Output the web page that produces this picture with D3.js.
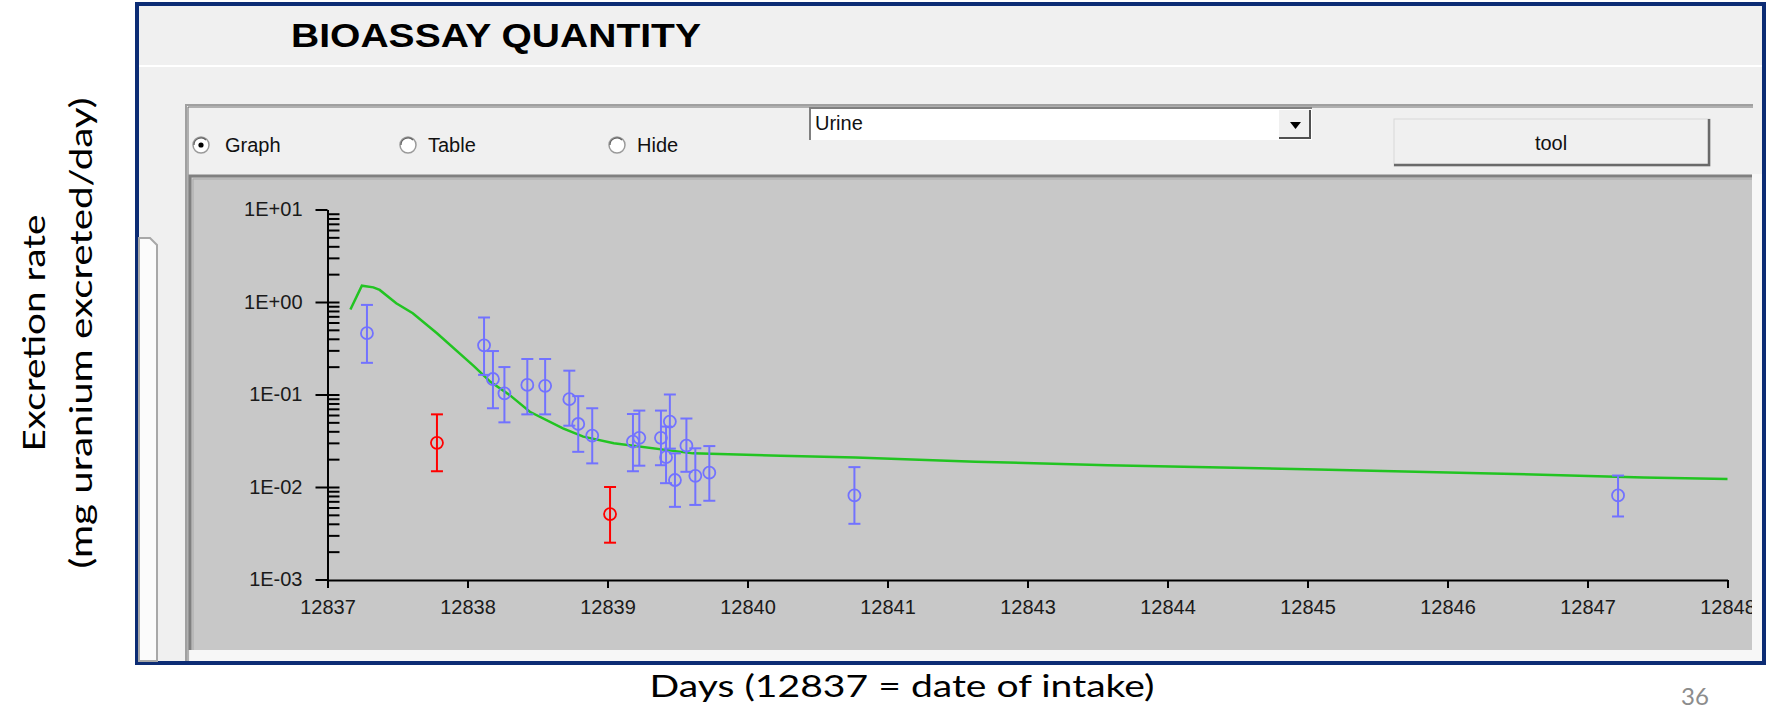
<!DOCTYPE html>
<html>
<head>
<meta charset="utf-8">
<script src="https://cdn.jsdelivr.net/npm/d3@7"></script>
<style>
  body { margin: 0; background: #fff; }
  svg { display: block; }
</style>
</head>
<body>
<svg width="1768" height="706"></svg>
<script>
var blueDays   = [12837.31, 12838.23, 12838.30, 12838.39, 12838.57, 12838.71, 12838.90, 12838.97, 12839.08, 12839.40,
                  12839.45, 12839.62, 12839.66, 12839.69, 12839.73, 12839.82, 12839.89, 12840.00, 12841.14, 12847.14]
var blueValues = [0.46, 0.34, 0.147, 0.103, 0.127, 0.124, 0.089, 0.048, 0.036, 0.031,
                  0.034, 0.034, 0.021, 0.051, 0.0119, 0.028, 0.0132, 0.0143, 0.0081, 0.0081]
var blueLow    = [0.22, 0.163, 0.071, 0.050, 0.061, 0.061, 0.046, 0.024, 0.018, 0.0148,
                  0.017, 0.0172, 0.011, 0.026, 0.0061, 0.0146, 0.0064, 0.0071, 0.0040, 0.0048]
var blueHigh   = [0.93, 0.68, 0.295, 0.198, 0.242, 0.242, 0.181, 0.096, 0.071, 0.0615,
                  0.067, 0.067, 0.045, 0.100, 0.0231, 0.055, 0.0262, 0.0277, 0.0164, 0.0133]

// excluded samples (red)
var redDays   = [12837.86, 12839.22]
var redValues = [0.030, 0.0051]
var redLow    = [0.0148, 0.0025]
var redHigh   = [0.061, 0.0100]

// fitted model curve (green)
var modelDays   = [12837.18, 12837.27, 12837.36, 12837.41, 12837.54, 12837.67, 12837.86, 12838.15, 12838.28, 12838.43,
                   12838.59, 12838.85, 12839.01, 12839.25, 12839.87, 12840.56, 12841.15, 12842.09, 12843.13, 12844.78,
                   12846.06, 12847.34, 12848.0]
var modelValues = [0.83, 1.50, 1.44, 1.35, 0.97, 0.755, 0.46, 0.203, 0.137, 0.099,
                   0.065, 0.043, 0.035, 0.0297, 0.0231, 0.0218, 0.0209, 0.0188, 0.0172, 0.0155,
                   0.0141, 0.0127, 0.0122]

// axis ticks (the program puts 11 ticks 1.1 days apart and rounds the labels)
var xTickValues = [12837, 12838.1, 12839.2, 12840.3, 12841.4, 12842.5, 12843.6, 12844.7, 12845.8, 12846.9, 12848]
var xTickLabels = ["12837", "12838", "12839", "12840", "12841", "12843", "12844", "12845", "12846", "12847", "12848"]
var yTickValues = [1e-3, 1e-2, 1e-1, 1, 10]
var yTickLabels = ["1E-03", "1E-02", "1E-01", "1E+00", "1E+01"]

var svg = d3.select("svg")
var uiFont = "'Liberation Sans', Arial, sans-serif"

// ---- window chrome ----
svg.append("rect")
    .attr("x", 137).attr("y", 4).attr("width", 1627).attr("height", 659)
    .attr("fill", "#f0f0f0").attr("stroke", "#0c2c74").attr("stroke-width", 4)

svg.append("text")
    .attr("x", 291).attr("y", 47)
    .attr("textLength", 410).attr("lengthAdjust", "spacingAndGlyphs")
    .style("font-family", uiFont).style("font-weight", "bold").style("font-size", "33px")
    .text("BIOASSAY QUANTITY")

svg.append("line").attr("x1", 139).attr("x2", 1762).attr("y1", 66).attr("y2", 66)
    .attr("stroke", "#ffffff").attr("stroke-width", 2)

// left tab strip
svg.append("path")
    .attr("d", "M139,238 H150 L157,245 V661 H139 Z")
    .attr("fill", "#fbfbfb").attr("stroke", "#a8a8a8").attr("stroke-width", 2)

// group panel with radios
svg.append("path").attr("d", "M186,661 V105 H1753")
    .attr("fill", "none").attr("stroke", "#a0a0a0").attr("stroke-width", 2)
svg.append("path").attr("d", "M188,661 V107 H1753")
    .attr("fill", "none").attr("stroke", "#707070").attr("stroke-width", 1)

var radios = [
    { cx: 201, label: "Graph", lx: 225, on: true },
    { cx: 408, label: "Table", lx: 428, on: false },
    { cx: 617, label: "Hide", lx: 637, on: false }
]
radios.forEach(function(r) {
    svg.append("circle").attr("cx", r.cx).attr("cy", 145).attr("r", 8)
        .attr("fill", "#ffffff").attr("stroke", "#9a9a9a").attr("stroke-width", 1.5)
    svg.append("path")
        .attr("d", "M" + (r.cx - 7) + ",145 A7,7 0 0 1 " + (r.cx + 5) + ",140")
        .attr("fill", "none").attr("stroke", "#606060").attr("stroke-width", 1.2)
    if (r.on) svg.append("circle").attr("cx", r.cx).attr("cy", 145).attr("r", 2.6).attr("fill", "#000")
    svg.append("text").attr("x", r.lx).attr("y", 152)
        .style("font-family", uiFont).style("font-size", "20px").attr("fill", "#111")
        .text(r.label)
})

// dropdown
svg.append("rect").attr("x", 810).attr("y", 108).attr("width", 502).attr("height", 32)
    .attr("fill", "#ffffff")
svg.append("path").attr("d", "M810,140 V108 H1312").attr("fill", "none")
    .attr("stroke", "#808080").attr("stroke-width", 2)
svg.append("text").attr("x", 815).attr("y", 130)
    .style("font-family", uiFont).style("font-size", "20px").attr("fill", "#111")
    .text("Urine")
svg.append("rect").attr("x", 1279).attr("y", 110).attr("width", 31).attr("height", 28)
    .attr("fill", "#f0f0f0")
svg.append("path").attr("d", "M1279,138 H1310 V110").attr("fill", "none")
    .attr("stroke", "#505050").attr("stroke-width", 2)
svg.append("path").attr("d", "M1290,122 H1301 L1295.5,129 Z").attr("fill", "#000")

// tool button
svg.append("rect").attr("x", 1394).attr("y", 119).attr("width", 316).attr("height", 47)
    .attr("fill", "#f0f0f0").attr("stroke", "#d8d8d8").attr("stroke-width", 1)
svg.append("path").attr("d", "M1394,165 H1709 V119").attr("fill", "none")
    .attr("stroke", "#6a6a6a").attr("stroke-width", 2.5)
svg.append("text").attr("x", 1551).attr("y", 150).attr("text-anchor", "middle")
    .style("font-family", uiFont).style("font-size", "20px").attr("fill", "#111")
    .text("tool")

// ---- chart panel ----
var panel = { x: 190, y: 176, w: 1562, h: 474 }
svg.append("rect").attr("x", panel.x).attr("y", panel.y).attr("width", panel.w).attr("height", panel.h)
    .attr("fill", "#c8c8c8")
svg.append("path").attr("d", "M" + panel.x + "," + (panel.y + panel.h) + " V" + panel.y + " H" + (panel.x + panel.w))
    .attr("fill", "none").attr("stroke", "#808080").attr("stroke-width", 3)
svg.append("path").attr("d", "M" + (panel.x + 3) + "," + (panel.y + panel.h) + " V" + (panel.y + 3) + " H" + (panel.x + panel.w))
    .attr("fill", "none").attr("stroke", "#a8a8a8").attr("stroke-width", 1)
svg.append("rect").attr("x", panel.x).attr("y", panel.y + panel.h).attr("width", panel.w + 10).attr("height", 11)
    .attr("fill", "#f7f7f7")
svg.append("rect").attr("x", panel.x + panel.w).attr("y", panel.y - 2).attr("width", 10).attr("height", panel.h + 2)
    .attr("fill", "#f7f7f7")

svg.append("clipPath").attr("id", "panelClip")
    .append("rect").attr("x", panel.x).attr("y", panel.y).attr("width", panel.w).attr("height", panel.h)

var g = svg.append("g").attr("clip-path", "url(#panelClip)")

var x = d3.scaleLinear().domain([12837, 12848]).range([327.5, 1727.5])
var y = d3.scaleLog().domain([1e-3, 10]).range([579.5, 209.5])

// y axis: major ticks left with labels, minor ticks to the right
var yAxis = g.append("g").attr("transform", "translate(327.5,0)")
    .call(d3.axisLeft(y).tickValues(yTickValues)
        .tickFormat(function(d, i) { return yTickLabels[i] })
        .tickSizeInner(12).tickSizeOuter(0).tickPadding(13))
yAxis.selectAll("line, path").attr("stroke", "#000").attr("stroke-width", 2)
yAxis.selectAll("text")
    .style("font-family", uiFont).style("font-size", "20px").attr("fill", "#1a1a1a")

var minorTicks = y.ticks().filter(function(d) { return d < 9.99 && d > 1.01e-3 })
var yMinor = g.append("g").attr("transform", "translate(327.5,0)")
    .call(d3.axisRight(y).tickValues(minorTicks).tickSize(12).tickFormat(""))
yMinor.select(".domain").remove()
yMinor.selectAll("line").attr("stroke", "#000").attr("stroke-width", 2)

var xAxis = g.append("g").attr("transform", "translate(0,580)")
    .call(d3.axisBottom(x).tickValues(xTickValues)
        .tickFormat(function(d, i) { return xTickLabels[i] })
        .tickSizeInner(8).tickSizeOuter(0).tickPadding(12))
xAxis.selectAll("line, path").attr("stroke", "#000").attr("stroke-width", 2)
xAxis.selectAll("text")
    .style("font-family", uiFont).style("font-size", "20px").attr("fill", "#1a1a1a")

// model curve
var modelLine = d3.line()
    .x(function(d, i) { return x(modelDays[i]) })
    .y(function(d, i) { return y(modelValues[i]) })
g.append("path").datum(modelValues)
    .attr("d", modelLine)
    .attr("fill", "none").attr("stroke", "#22c422").attr("stroke-width", 2.5)

function drawPoints(days, values, low, high, color) {
    var pts = days.map(function(d, i) {
        return { day: d, v: values[i], lo: low[i], hi: high[i] }
    })
    var pg = g.append("g").selectAll("g").data(pts).enter().append("g")
        .attr("stroke", color).attr("fill", "none")
    pg.append("line")
        .attr("x1", function(d) { return x(d.day) }).attr("x2", function(d) { return x(d.day) })
        .attr("y1", function(d) { return y(d.hi) }).attr("y2", function(d) { return y(d.lo) })
        .attr("stroke-width", 2)
    pg.append("line")
        .attr("x1", function(d) { return x(d.day) - 6 }).attr("x2", function(d) { return x(d.day) + 6 })
        .attr("y1", function(d) { return y(d.hi) }).attr("y2", function(d) { return y(d.hi) })
        .attr("stroke-width", 2)
    pg.append("line")
        .attr("x1", function(d) { return x(d.day) - 6 }).attr("x2", function(d) { return x(d.day) + 6 })
        .attr("y1", function(d) { return y(d.lo) }).attr("y2", function(d) { return y(d.lo) })
        .attr("stroke-width", 2)
    pg.append("circle")
        .attr("cx", function(d) { return x(d.day) }).attr("cy", function(d) { return y(d.v) })
        .attr("r", 6).attr("stroke-width", 1.8)
}
drawPoints(blueDays, blueValues, blueLow, blueHigh, "#7272ff")
drawPoints(redDays, redValues, redLow, redHigh, "#ff0000")

// ---- slide captions ----
var slideFont = "Lato, 'Open Sans', sans-serif"
svg.append("text")
    .attr("x", 902).attr("y", 697).attr("text-anchor", "middle")
    .attr("textLength", 505).attr("lengthAdjust", "spacingAndGlyphs")
    .style("font-family", slideFont).style("font-size", "31px").attr("fill", "#000")
    .text("Days (12837 = date of intake)")

var yTitle = svg.append("g").attr("transform", "translate(0,333) rotate(-90)")
yTitle.append("text").attr("x", 0).attr("y", 45).attr("text-anchor", "middle")
    .attr("textLength", 237).attr("lengthAdjust", "spacingAndGlyphs")
    .style("font-family", slideFont).style("font-size", "31px").attr("fill", "#000")
    .text("Excretion rate")
yTitle.append("text").attr("x", 0).attr("y", 92).attr("text-anchor", "middle")
    .attr("textLength", 471).attr("lengthAdjust", "spacingAndGlyphs")
    .style("font-family", slideFont).style("font-size", "31px").attr("fill", "#000")
    .text("(mg uranium excreted/day)")

svg.append("text").attr("x", 1695).attr("y", 705).attr("text-anchor", "middle")
    .style("font-family", slideFont).style("font-size", "24px").attr("fill", "#8c8c8c")
    .text("36")
</script>
</body>
</html>
